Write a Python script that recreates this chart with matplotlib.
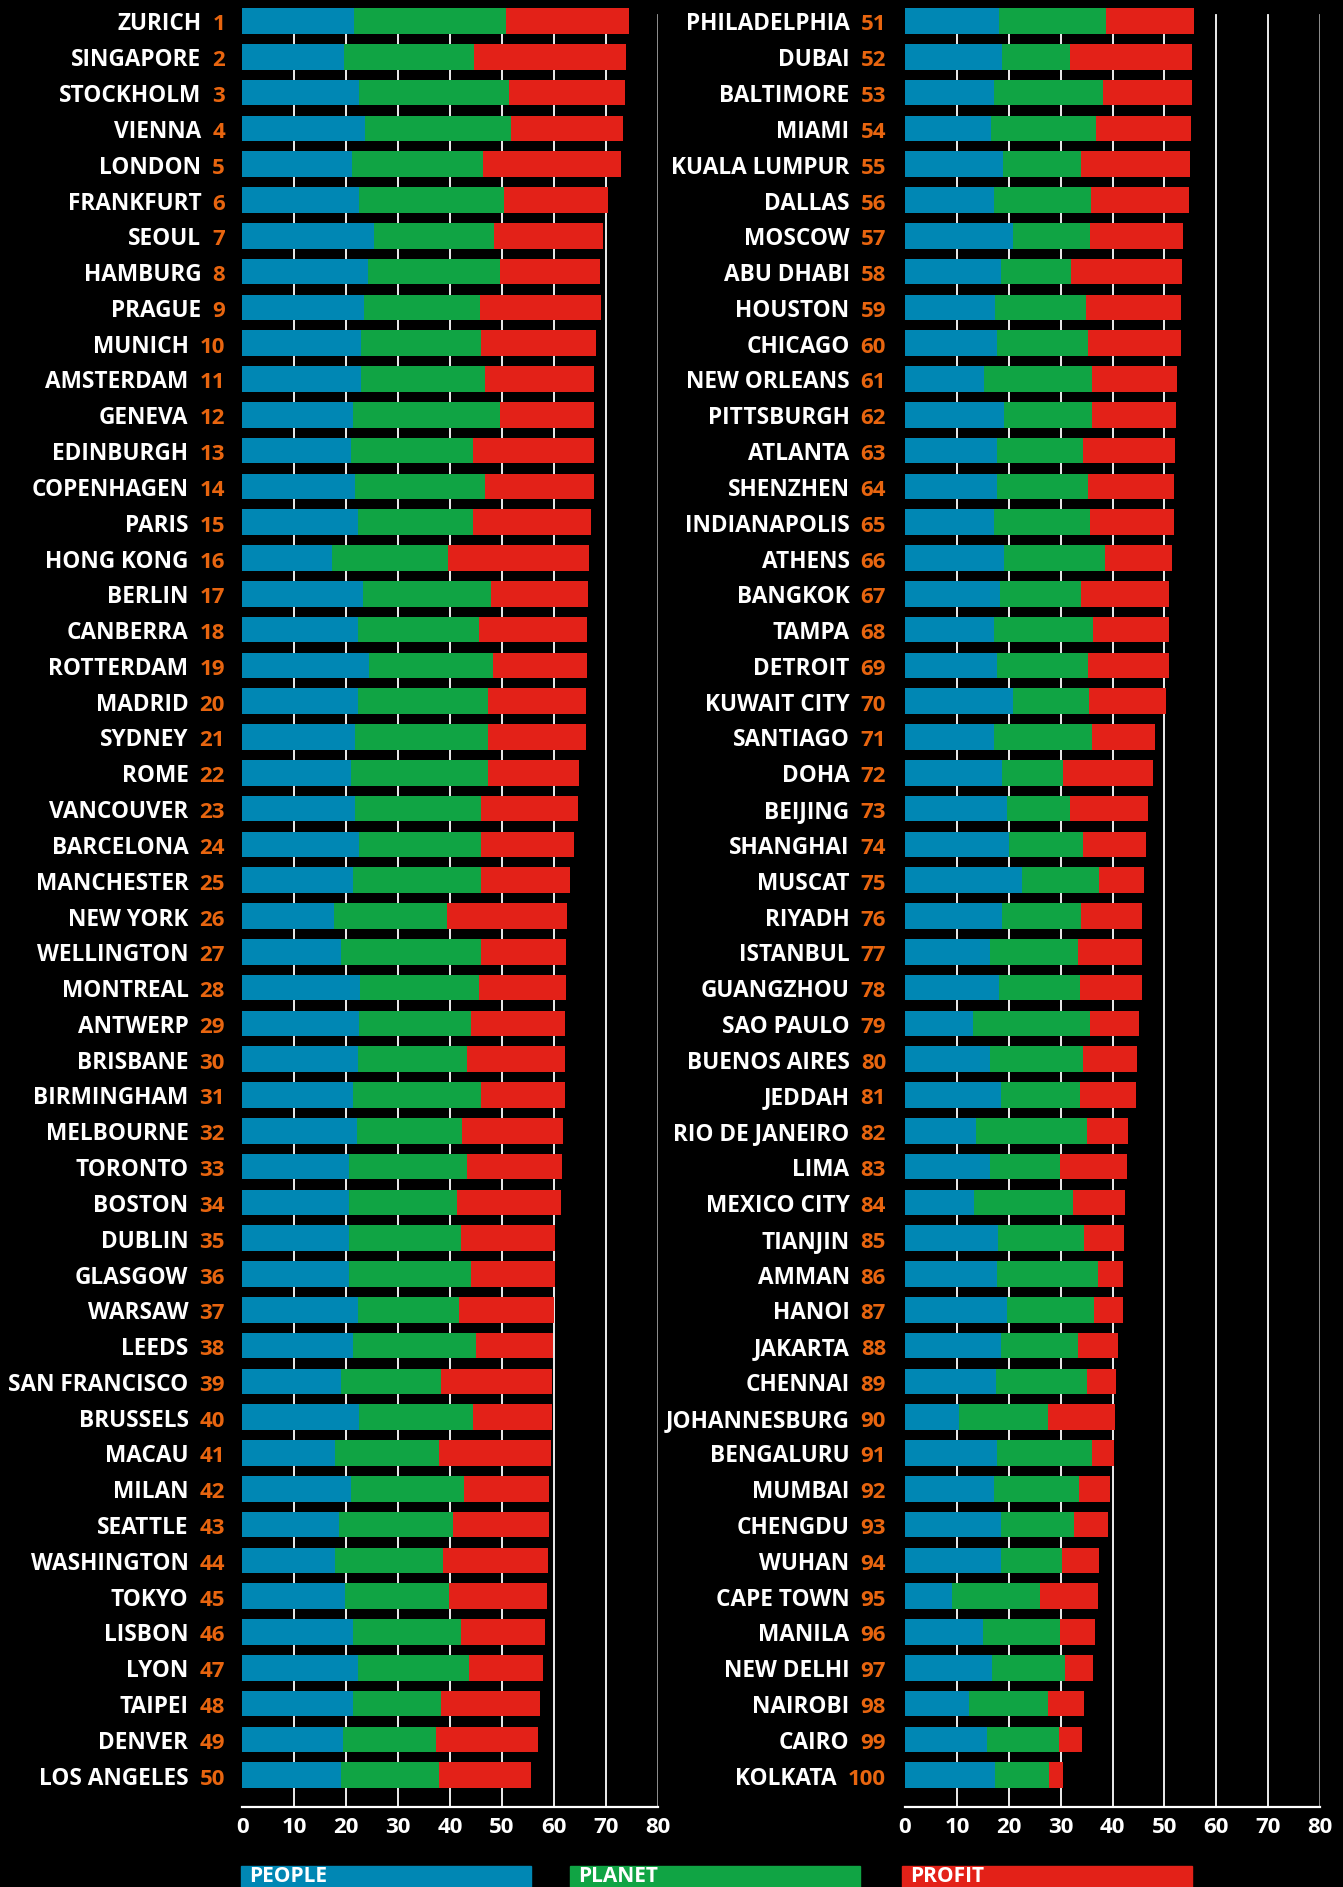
import matplotlib.pyplot as plt
from matplotlib.patches import Rectangle

cities = ["ZURICH", "SINGAPORE", "STOCKHOLM", "VIENNA", "LONDON", "FRANKFURT", "SEOUL", "HAMBURG",
          "PRAGUE", "MUNICH", "AMSTERDAM", "GENEVA", "EDINBURGH", "COPENHAGEN", "PARIS", "HONG KONG",
          "BERLIN", "CANBERRA", "ROTTERDAM", "MADRID", "SYDNEY", "ROME", "VANCOUVER", "BARCELONA",
          "MANCHESTER", "NEW YORK", "WELLINGTON", "MONTREAL", "ANTWERP", "BRISBANE", "BIRMINGHAM",
          "MELBOURNE", "TORONTO", "BOSTON", "DUBLIN", "GLASGOW", "WARSAW", "LEEDS", "SAN FRANCISCO",
          "BRUSSELS", "MACAU", "MILAN", "SEATTLE", "WASHINGTON", "TOKYO", "LISBON", "LYON", "TAIPEI",
          "DENVER", "LOS ANGELES",
          "PHILADELPHIA", "DUBAI", "BALTIMORE", "MIAMI", "KUALA LUMPUR", "DALLAS", "MOSCOW", "ABU DHABI",
          "HOUSTON", "CHICAGO", "NEW ORLEANS", "PITTSBURGH", "ATLANTA", "SHENZHEN", "INDIANAPOLIS",
          "ATHENS", "BANGKOK", "TAMPA", "DETROIT", "KUWAIT CITY", "SANTIAGO", "DOHA", "BEIJING",
          "SHANGHAI", "MUSCAT", "RIYADH", "ISTANBUL", "GUANGZHOU", "SAO PAULO", "BUENOS AIRES", "JEDDAH",
          "RIO DE JANEIRO", "LIMA", "MEXICO CITY", "TIANJIN", "AMMAN", "HANOI", "JAKARTA", "CHENNAI",
          "JOHANNESBURG", "BENGALURU", "MUMBAI", "CHENGDU", "WUHAN", "CAPE TOWN", "MANILA", "NEW DELHI",
          "NAIROBI", "CAIRO", "KOLKATA"]

people = [21.6, 19.6, 22.5, 23.7, 21.1, 22.4, 25.3, 24.3, 23.5, 22.8,
          22.9, 21.3, 20.9, 21.8, 22.2, 17.2, 23.3, 22.2, 24.4, 22.2,
          21.8, 21.0, 21.8, 22.4, 21.3, 17.6, 19.1, 22.6, 22.4, 22.2,
          21.4, 22.1, 20.5, 20.5, 20.6, 20.5, 22.2, 21.4, 19.0, 22.4,
          17.9, 21.0, 18.6, 17.9, 19.7, 21.3, 22.2, 21.3, 19.4, 19.1,
          18.2, 18.7, 17.2, 16.5, 18.9, 17.2, 20.9, 18.5, 17.3, 17.8,
          15.3, 19.1, 17.8, 17.8, 17.1, 19.1, 18.3, 17.1, 17.8, 20.9,
          17.1, 18.7, 19.7, 20.1, 22.6, 18.7, 16.4, 18.2, 13.2, 16.4,
          18.6, 13.6, 16.3, 13.3, 17.9, 17.8, 19.7, 18.6, 17.6, 10.5,
          17.8, 17.1, 18.6, 18.6, 9.0, 15.1, 16.7, 12.4, 15.9, 17.4]

planet = [29.2, 25.1, 28.9, 28.1, 25.3, 28.0, 23.2, 25.4, 22.3, 23.2,
          23.9, 28.4, 23.5, 25.0, 22.2, 22.5, 24.5, 23.3, 23.9, 25.2,
          25.6, 26.4, 24.1, 23.5, 24.6, 21.9, 26.9, 22.9, 21.6, 21.1,
          24.5, 20.3, 22.7, 20.8, 21.5, 23.6, 19.5, 23.7, 19.3, 22.0,
          20.0, 21.6, 21.9, 20.7, 20.2, 20.9, 21.4, 17.0, 18.0, 18.7,
          20.5, 13.1, 21.0, 20.3, 15.0, 18.6, 14.7, 13.5, 17.6, 17.5,
          20.7, 16.9, 16.6, 17.5, 18.5, 19.5, 15.7, 19.2, 17.5, 14.6,
          18.9, 11.8, 12.1, 14.3, 14.8, 15.3, 16.9, 15.5, 22.4, 18.0,
          15.1, 21.5, 13.6, 19.1, 16.6, 19.4, 16.7, 14.7, 17.5, 17.1,
          18.2, 16.5, 14.0, 11.7, 17.0, 14.8, 14.2, 15.2, 13.8, 10.4]

profit = [23.6, 29.2, 22.3, 21.5, 26.5, 20.0, 20.9, 19.2, 23.3, 22.2,
          21.0, 18.1, 23.4, 21.0, 22.8, 27.0, 18.7, 20.8, 18.0, 18.7,
          18.7, 17.5, 18.8, 17.9, 17.3, 23.1, 16.4, 16.9, 18.2, 18.8,
          16.2, 19.3, 18.3, 20.0, 18.2, 16.2, 18.4, 14.8, 21.4, 15.3,
          21.5, 16.5, 18.6, 20.3, 18.8, 16.1, 14.3, 19.1, 19.6, 17.8,
          17.0, 23.6, 17.1, 18.3, 21.0, 18.9, 17.9, 21.4, 18.3, 17.9,
          16.4, 16.2, 17.7, 16.6, 16.3, 12.9, 16.9, 14.6, 15.6, 14.8,
          12.2, 17.3, 15.1, 12.1, 8.7, 11.7, 12.4, 12.0, 9.5, 10.3,
          10.9, 7.9, 12.9, 10.0, 7.7, 4.9, 5.7, 7.8, 5.6, 12.9,
          4.3, 6.0, 6.6, 7.1, 11.2, 6.8, 5.4, 7.0, 4.5, 2.7]

ranks = list(range(1, 101))
ticks = [0, 10, 20, 30, 40, 50, 60, 70, 80]
legend_names = ["PEOPLE", "PLANET", "PROFIT"]

BLUE = "#0087b4"
GREEN = "#10a444"
RED = "#e32118"
ORANGE = "#e8650f"
FONT = ["Open Sans", "DejaVu Sans"]

W, H = 1343, 1887
PITCH = 35.8
ROW0 = 21.0   # pixel centre of first row
AX_BOTTOM = 1807.0

fig = plt.figure(figsize=(W / 100, H / 100), dpi=100, facecolor="black")


def make_panel(x0, x80, lo, hi, num_right):
    ax = fig.add_axes([x0 / W, 1 - AX_BOTTOM / H, (x80 - x0) / W, AX_BOTTOM / H])
    ax.set_facecolor("black")
    n = hi - lo
    ys = list(range(n))
    p = people[lo:hi]
    g = planet[lo:hi]
    r = profit[lo:hi]
    left2 = [a + b for a, b in zip(p, g)]
    ax.barh(ys, p, height=0.72, color=BLUE, zorder=3)
    ax.barh(ys, g, left=p, height=0.72, color=GREEN, zorder=3)
    ax.barh(ys, r, left=left2, height=0.72, color=RED, zorder=3)
    ax.set_xlim(0, 80)
    ax.set_ylim((AX_BOTTOM - ROW0) / PITCH, -ROW0 / PITCH)
    for v in ticks[1:]:
        col = "#9a9a9a" if v == 80 else "white"
        ax.axvline(v, ymin=0, ymax=1 - 15 / AX_BOTTOM, color=col, lw=1.3, zorder=1)
    for s in ["top", "right", "left"]:
        ax.spines[s].set_visible(False)
    ax.spines["bottom"].set_color("white")
    ax.spines["bottom"].set_linewidth(1.6)
    ax.set_yticks([])
    ax.set_xticks(ticks)
    ax.tick_params(axis="x", length=0, pad=7, colors="white", labelsize=16)
    for lab in ax.get_xticklabels():
        lab.set_family(FONT)
        lab.set_fontweight("bold")

    # row labels: name in white, rank in orange
    renderer = fig.canvas.get_renderer()
    for i in range(n):
        yb = 1 - (ROW0 + i * PITCH + 9.5) / H
        t = fig.text(num_right / W, yb, str(ranks[lo + i]), color=ORANGE, ha="right",
                     va="baseline", fontsize=16, family=FONT, fontweight="bold")
        bb = t.get_window_extent(renderer)
        fig.text((bb.x0 - 11) / W, yb, cities[lo + i], color="white", ha="right",
                 va="baseline", fontsize=16.3, family=FONT, fontweight="bold")
    return ax


make_panel(242.3, 657.7, 0, 50, 225)
make_panel(905.0, 1320.0, 50, 100, 886)

# legend boxes at the bottom edge
for x, name, col in zip([241, 570, 902], legend_names, [BLUE, GREEN, RED]):
    fig.patches.append(Rectangle((x / W, 0), 290 / W, 21 / H, transform=fig.transFigure,
                                 color=col, zorder=1))
    fig.text((x + 8) / W, 1 - 1882 / H, name, color="white", ha="left", va="baseline",
             fontsize=15, family=FONT, fontweight="bold")

fig.savefig("out.png", dpi=100, facecolor="black")
